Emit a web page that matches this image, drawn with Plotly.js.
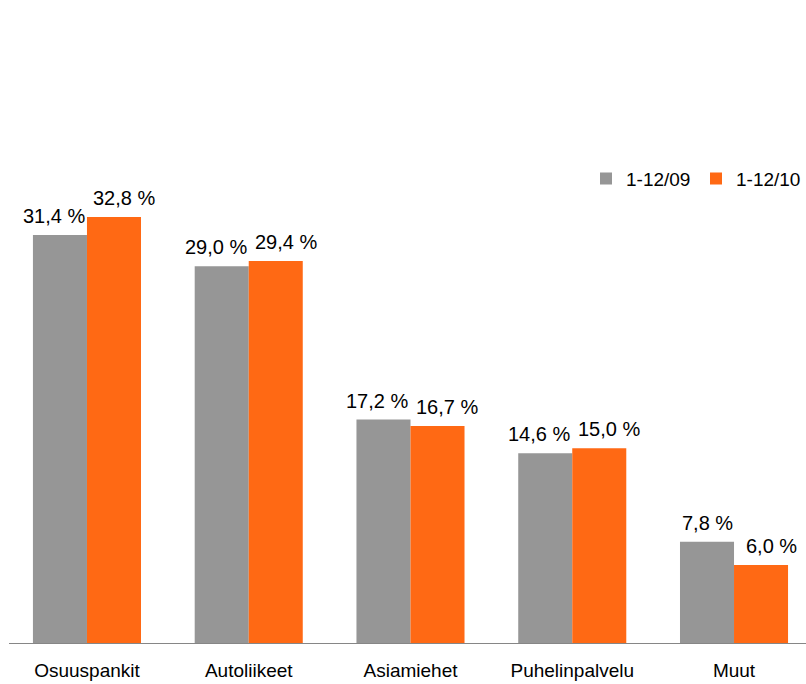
<!DOCTYPE html>
<html>
<head>
<meta charset="utf-8">
<script src="https://cdn.plot.ly/plotly-3.0.1.min.js"></script>
<style>html,body{margin:0;padding:0;background:#fff;overflow:hidden}</style>
</head>
<body>
<div id="chart" style="width:806px;height:684px"></div>
<script>
const categories = ["Osuuspankit", "Autoliikeet", "Asiamiehet", "Puhelinpalvelu", "Muut"];
const series09 = [31.4, 29.0, 17.2, 14.6, 7.8];
const series10 = [32.8, 29.4, 16.7, 15.0, 6.0];
const seriesNames = ["1-12/09", "1-12/10"];

function fmt(v) { return v.toFixed(1).replace(".", ",") + " %"; }

const font = {family: "Liberation Sans, Arial, sans-serif", size: 20, color: "#000"};
const legendFont = {family: "Liberation Sans, Arial, sans-serif", size: 19, color: "#000"};
const tickFont = {family: "Liberation Sans, Arial, sans-serif", size: 19, color: "#000"};

const traces = [
  {type: "bar", name: seriesNames[0], x: categories, y: series09,
   marker: {color: "#969696"}, hoverinfo: "none"},
  {type: "bar", name: seriesNames[1], x: categories, y: series10,
   marker: {color: "#FF6914"}, hoverinfo: "none"}
];

// value labels, placed at each bar's value through the axes
const annotations = [];
categories.forEach((c, i) => {
  annotations.push({x: c, y: series09[i], xref: "x", yref: "y", text: fmt(series09[i]),
    showarrow: false, yanchor: "bottom", xanchor: "center",
    xshift: i < categories.length - 1 ? -33 : -27, yshift: 6, font: font});
  annotations.push({x: c, y: series10[i], xref: "x", yref: "y", text: fmt(series10[i]),
    showarrow: false, yanchor: "bottom", xanchor: "center",
    xshift: 37, yshift: 6, font: font});
});

const layout = {
  width: 806, height: 684,
  margin: {l: 9, r: 0, t: 0, b: 41},
  paper_bgcolor: "#fff", plot_bgcolor: "#fff",
  barmode: "group", bargap: 0.332, bargroupgap: 0,
  font: font,
  showlegend: true,
  legend: {orientation: "h", x: 1, xanchor: "right", y: 0.722, yanchor: "middle",
           font: legendFont, itemwidth: 30, traceorder: "normal",
           entrywidth: 65, entrywidthmode: "pixels"},
  annotations: annotations,
  xaxis: {type: "category", range: [-0.482, 4.445], showline: true, linecolor: "#868686",
          linewidth: 1, ticks: "", showgrid: false, zeroline: false,
          tickfont: tickFont, ticklabelstandoff: 10, automargin: false},
  yaxis: {range: [0, 49.5], visible: false, showgrid: false, zeroline: false, fixedrange: true}
};

Plotly.newPlot("chart", traces, layout, {displayModeBar: false, staticPlot: true});
</script>
</body>
</html>
